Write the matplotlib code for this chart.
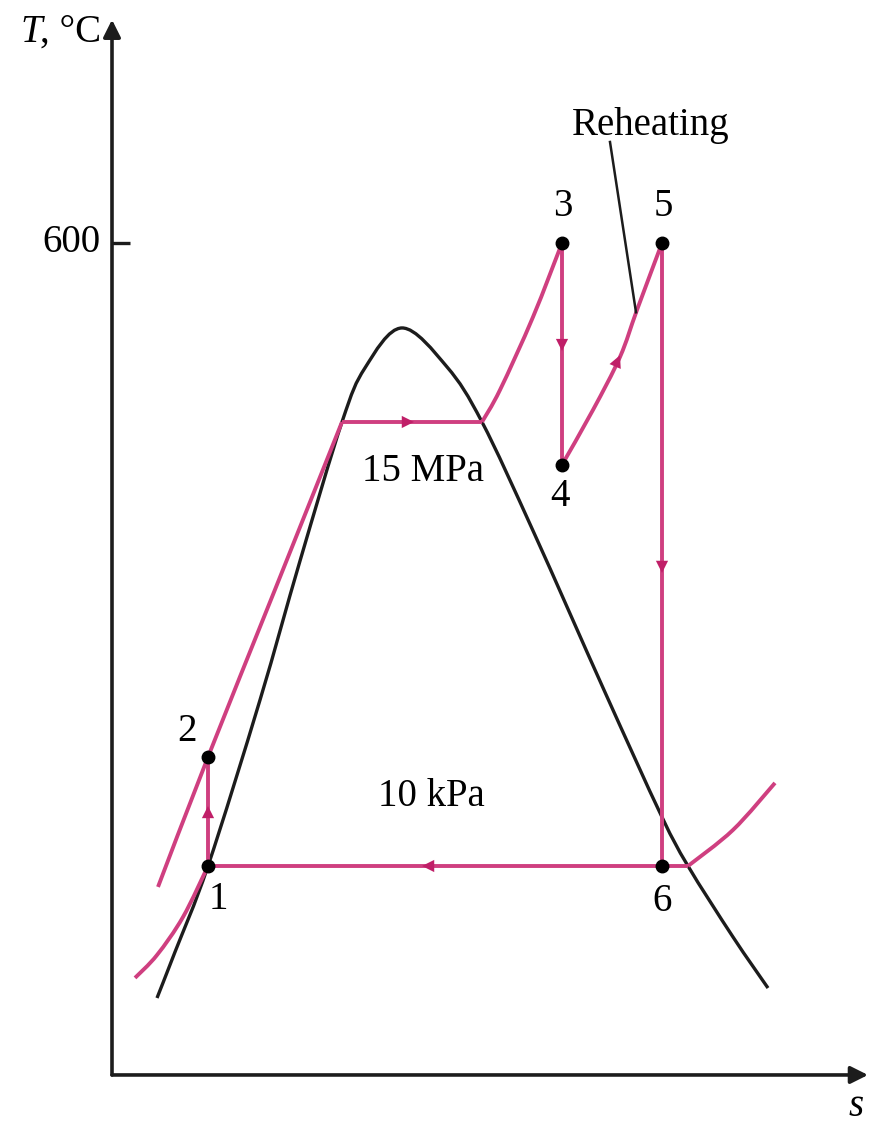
import matplotlib
matplotlib.use("Agg")
import matplotlib.pyplot as plt
from matplotlib.path import Path
from matplotlib.patches import PathPatch
import numpy as np

# ---------------- data (schematic T-s diagram, s arbitrary units, T in °C) ----------------
dome_s = [0.45, 0.63, 0.96, 1.48, 1.88, 2.30, 2.53, 2.90, 3.35, 3.70, 4.22, 4.92, 5.49,
          5.76, 6.21, 6.56]
dome_T = [55.5, 88.7, 150.7, 270.4, 370.7, 470.9, 509.9, 538.7, 510.6, 470.9, 390.9, 277.6,
          187.5, 150.7, 99.5, 62.7]

# 15 MPa isobar: compressed liquid part, boiling line, superheat up to state 3
hp_liq_s = [0.46, 0.96, 1.63, 2.30]
hp_liq_T = [135.6, 229.3, 350.0, 470.9]
hp_sat_s = [2.30, 3.70]
hp_sat_T = [470.9, 470.9]
hp_sup_s = [3.70, 3.88, 4.21, 4.50]
hp_sup_T = [470.9, 494.0, 546.6, 600.0]

# 10 kPa isobar: liquid part, condensation line, superheat part
lp_liq_s = [0.23, 0.45, 0.71, 0.96]
lp_liq_T = [70.0, 86.5, 113.9, 150.7]
lp_sat_s = [0.96, 5.76]
lp_sat_T = [150.7, 150.7]
lp_sup_s = [5.76, 6.21, 6.63]
lp_sup_T = [150.7, 176.7, 210.6]

# reheat process 4 -> 5
reheat_s = [4.50, 4.81, 5.08, 5.25, 5.50]
reheat_T = [440.0, 479.6, 517.8, 551.7, 600.0]

# states
state_labels = ["1", "2", "3", "4", "5", "6"]
state_s = [0.96, 0.96, 4.50, 4.50, 5.50, 5.50]
state_T = [150.7, 229.3, 600.0, 440.0, 600.0, 150.7]

ytick_value = 600
ytick_label = "600"

# ---------------- style ----------------
PINK = "#cf3f80"
ARROW = "#c01f68"
BLACK = "#1c1c1c"
FONT = "Liberation Serif"
FS = 28

fig = plt.figure(figsize=(8.79, 11.26), dpi=100)
ax = fig.add_axes([0, 0, 1, 1])
ax.set_xlim(-1.12, 7.67)
ax.set_ylim(-36.8, 775.2)
ax.axis("off")


def smooth_curve(xs, ys, color, lw, zorder):
    """Draw a smooth curve through the given points (Catmull-Rom as cubic Bezier)."""
    p = np.column_stack([xs, ys]).astype(float)
    n = len(p)
    if n < 3:
        ax.plot(xs, ys, color=color, lw=lw, zorder=zorder, solid_capstyle="butt")
        return
    verts = [p[0]]
    codes = [Path.MOVETO]
    for i in range(n - 1):
        p0 = p[i - 1] if i > 0 else p[i]
        p1 = p[i]
        p2 = p[i + 1]
        p3 = p[i + 2] if i + 2 < n else p[i + 1]
        c1 = p1 + (p2 - p0) / 6.0
        c2 = p2 - (p3 - p1) / 6.0
        verts += [c1, c2, p2]
        codes += [Path.CURVE4] * 3
    ax.add_patch(PathPatch(Path(verts, codes), facecolor="none", edgecolor=color,
                           lw=lw, zorder=zorder, capstyle="butt", joinstyle="round"))


# axes with arrows
ax.annotate("", xy=(0, 761), xytext=(0, 0),
            arrowprops=dict(arrowstyle="-|>", color=BLACK, lw=2.6, mutation_scale=26,
                            shrinkA=0, shrinkB=0))
ax.annotate("", xy=(7.56, 0), xytext=(0, 0),
            arrowprops=dict(arrowstyle="-|>", color=BLACK, lw=2.6, mutation_scale=26,
                            shrinkA=0, shrinkB=0))
ax.plot([0, 0.18], [ytick_value, ytick_value], color=BLACK, lw=2.4, solid_capstyle="butt")
ax.text(-0.12, ytick_value, ytick_label, ha="right", va="center", fontsize=FS, family=FONT)

ax.text(-0.92, 752, "T", ha="left", va="center", fontsize=FS, family=FONT, style="italic")
ax.text(-0.72, 752, ", °C", ha="left", va="center", fontsize=FS, family=FONT)
ax.text(7.44, -29.6, "s", ha="center", va="baseline", fontsize=FS, family=FONT, style="italic")

# saturation dome
smooth_curve(dome_s, dome_T, BLACK, 2.4, 3)

# isobars
lwp = 2.8
for xs, ys in [(hp_liq_s, hp_liq_T), (hp_sat_s, hp_sat_T), (hp_sup_s, hp_sup_T),
               (lp_liq_s, lp_liq_T), (lp_sat_s, lp_sat_T), (lp_sup_s, lp_sup_T),
               (reheat_s, reheat_T)]:
    smooth_curve(xs, ys, PINK, lwp, 4)

# process lines 1-2, 3-4, 5-6
s1, s2, s3, s4, s5, s6 = state_s
T1, T2, T3, T4, T5, T6 = state_T
ax.plot([s1, s2], [T1, T2], color=PINK, lw=lwp, zorder=4)
ax.plot([s3, s4], [T3, T4], color=PINK, lw=lwp, zorder=4)
ax.plot([s5, s6], [T5, T6], color=PINK, lw=lwp, zorder=4)


def flow_arrow(x, y, dx, dy):
    ax.annotate("", xy=(x + dx, y + dy), xytext=(x, y),
                arrowprops=dict(arrowstyle="-|>", color=ARROW, lw=0, mutation_scale=22,
                                shrinkA=0, shrinkB=0), zorder=6)


flow_arrow(s1, 186, 0, 8)                   # 1 -> 2 up
flow_arrow(2.92, hp_sat_T[0], 0.10, 0)      # boiling, right
flow_arrow(s3, 530, 0, -8)                  # 3 -> 4 down
flow_arrow(5.02, 509, 0.06, 10)             # reheat 4 -> 5
flow_arrow(s5, 370, 0, -8)                  # 5 -> 6 down
flow_arrow(3.20, lp_sat_T[0], -0.10, 0)     # 6 -> 1 left

# state points
ax.plot(state_s, state_T, "o", color="black", ms=9, zorder=7)

label_pos = {"1": (1.06, 126.2), "2": (0.75, 247.4), "3": (4.51, 626.0),
             "4": (4.48, 416.8), "5": (5.51, 626.0), "6": (5.50, 124.8)}
for lab in state_labels:
    x, y = label_pos[lab]
    ax.text(x, y, lab, ha="center", va="center", fontsize=FS, family=FONT)

ax.text(3.11, 434.9, "15 MPa", ha="center", va="center", fontsize=FS, family=FONT)
ax.text(3.19, 200.5, "10 kPa", ha="center", va="center", fontsize=FS, family=FONT)

# Reheating label with leader line
ax.plot([4.98, 5.24], [672.8, 550.0], color=BLACK, lw=1.8, zorder=5)
ax.text(5.39, 677.9, "Reheating", ha="center", va="baseline", fontsize=FS, family=FONT)

fig.savefig("out.png", dpi=100, facecolor="white")
